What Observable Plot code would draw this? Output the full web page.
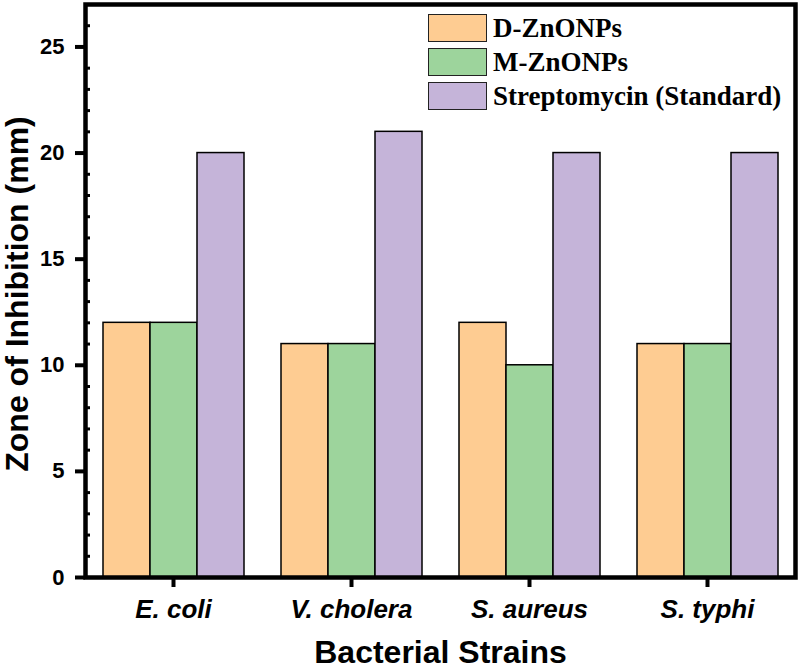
<!DOCTYPE html>
<html>
<head>
<meta charset="utf-8">
<script src="https://cdn.jsdelivr.net/npm/d3@7"></script>
<script src="https://cdn.jsdelivr.net/npm/@observablehq/plot@0.6"></script>
<style>
  html, body { margin: 0; padding: 0; background: #fff; }
  #wrap { position: relative; width: 800px; height: 669px; }
  #legend { position: absolute; left: 428px; top: 13px; font-family: "Liberation Serif", "Times New Roman", serif; font-weight: bold; font-size: 27px; color: #000; }
  .row { display: flex; align-items: center; height: 29px; margin-bottom: 5px; }
  .sw { width: 57px; height: 26px; border: 1.6px solid #222; box-sizing: content-box; margin-right: 6px; }
  .lab { line-height: 29px; white-space: nowrap; position: relative; top: 1px; }
</style>
</head>
<body>
<div id="wrap"></div>
<script>
const strains = ["E. coli", "V. cholera", "S. aureus", "S. typhi"];
const series = ["D-ZnONPs", "M-ZnONPs", "Streptomycin (Standard)"];
const dValues = [12, 11, 12, 11];
const mValues = [12, 11, 10, 11];
const sValues = [20, 21, 20, 20];
const colors = ["#FECC92", "#9DD49C", "#C5B4D9"];
const yTicks = [0, 5, 10, 15, 20, 25];
const yMinorTicks = [1, 2, 3, 4, 6, 7, 8, 9, 11, 12, 13, 14, 16, 17, 18, 19, 21, 22, 23, 24, 26];
const xTitle = "Bacterial Strains";
const yTitle = "Zone of Inhibition (mm)";

const valueLists = [dValues, mValues, sValues];
const data = [];
strains.forEach((s, i) => {
  series.forEach((k, j) => data.push({strain: s, series: k, value: valueLists[j][i]}));
});

const sans = "Liberation Sans, Arial, Helvetica, sans-serif";

const chart = Plot.plot({
  width: 800,
  height: 669,
  marginLeft: 84,
  marginRight: 5,
  marginTop: 4,
  marginBottom: 92,
  style: {fontFamily: sans, background: "white", color: "black"},
  fx: {domain: strains, paddingInner: 0.0134, paddingOuter: 0, axis: null, label: null},
  x: {domain: series, padding: 0, insetLeft: 17, insetRight: 17, axis: null, label: null},
  y: {domain: [0, 27], axis: null, label: null},
  color: {domain: series, range: colors},
  marks: [
    Plot.barY(data, {fx: "strain", x: "series", y: "value", fill: "series", stroke: "black", strokeWidth: 1.5}),
    Plot.axisY({ticks: yMinorTicks, tickSize: -5, text: null, strokeWidth: 3}),
    Plot.axisY({ticks: yTicks, tickSize: 10, tickPadding: 11, strokeWidth: 4, fontSize: 22, fontWeight: "bold", tickFormat: d => String(d), label: null}),
    Plot.axisFx({anchor: "bottom", tickSize: 10, tickPadding: 12, strokeWidth: 4, fontSize: 26, fontWeight: "bold", fontStyle: "italic", label: null}),
    Plot.frame({facet: "super", stroke: "black", strokeWidth: 4.5}),
    Plot.text([xTitle], {facet: "super", frameAnchor: "bottom", dy: 85, lineAnchor: "bottom", textAnchor: "middle", text: d => d, fontSize: 32, fontWeight: "bold"}),
    Plot.text([yTitle], {facet: "super", frameAnchor: "left", dx: -58, dy: 3, rotate: -90, lineAnchor: "bottom", textAnchor: "middle", text: d => d, fontSize: 32, fontWeight: "bold"})
  ]
});

const wrap = document.getElementById("wrap");
wrap.appendChild(chart);

const legend = document.createElement("div");
legend.id = "legend";
series.forEach((k, j) => {
  const row = document.createElement("div");
  row.className = "row";
  const sw = document.createElement("div");
  sw.className = "sw";
  sw.style.background = colors[j];
  const lab = document.createElement("span");
  lab.className = "lab";
  lab.textContent = k;
  row.appendChild(sw);
  row.appendChild(lab);
  legend.appendChild(row);
});
wrap.appendChild(legend);
</script>
</body>
</html>
